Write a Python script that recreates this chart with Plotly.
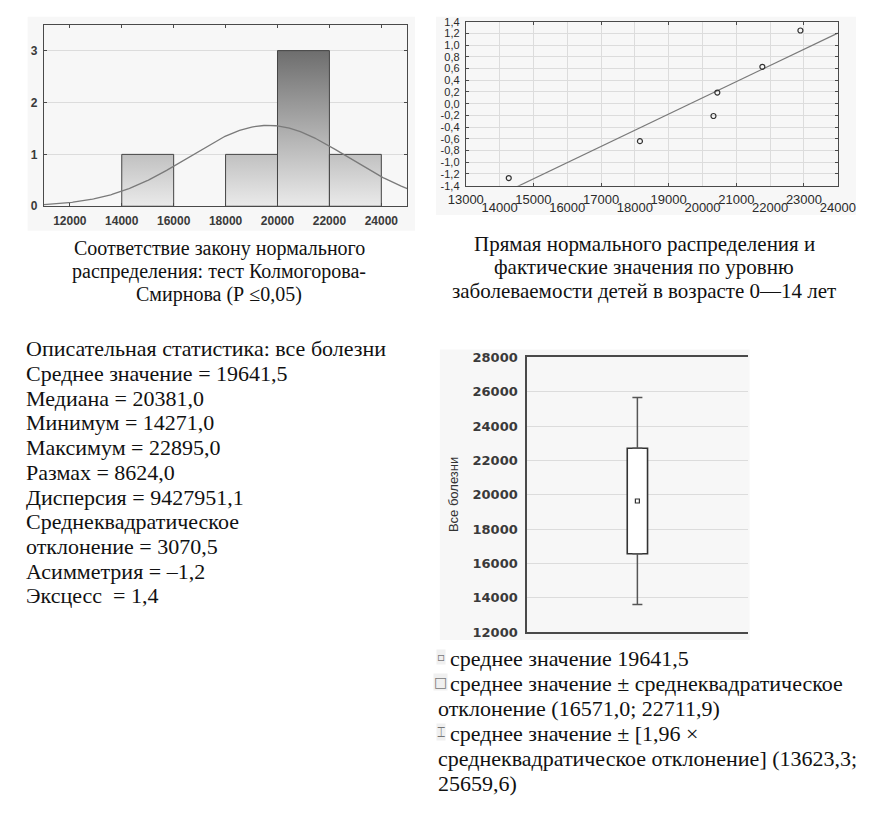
import numpy as np
import plotly.graph_objects as go

W, H = 874, 814

# ---------------- data ----------------
# histogram (Kolmogorov-Smirnov panel)
bin_edges = [12000, 14000, 16000, 18000, 20000, 22000, 24000]
bin_counts = [0, 1, 0, 1, 3, 1]
hist_xticks = [12000, 14000, 16000, 18000, 20000, 22000, 24000]
hist_yticks = [0, 1, 2, 3]

# descriptive statistics (used for the fitted normal curve)
stat_mean = 19641.5
stat_sd = 3070.5

# normal probability plot
obs_values = [14271, 18150, 20324, 20438, 21770, 22895]
exp_normal = [-1.27, -0.64, -0.21, 0.19, 0.63, 1.25]
line_center = 19641.5   # x where the normal line crosses 0
line_scale = 3615.0     # x units per 1 unit of expected normal value
pp_ticks_row1 = [13000, 15000, 17000, 19000, 21000, 23000]
pp_ticks_row2 = [14000, 16000, 18000, 20000, 22000, 24000]
pp_yticks = [-1.4, -1.2, -1.0, -0.8, -0.6, -0.4, -0.2, 0.0, 0.2, 0.4, 0.6, 0.8, 1.0, 1.2, 1.4]

# box (mean / mean ± sd / mean ± 1.96 sd)
box_category = ["Все болезни"]
box_mean = [19641.5]
box_low = [16571.0]
box_high = [22711.9]
whisk_low = [13623.3]
whisk_high = [25659.6]
box_yticks = [12000, 14000, 16000, 18000, 20000, 22000, 24000, 26000, 28000]

# texts
left_title = ["Соответствие закону нормального",
              "распределения: тест Колмогорова-",
              "Смирнова (Р ≤0,05)"]
right_title = ["Прямая нормального распределения и",
               "фактические значения по уровню",
               "заболеваемости детей в возрасте 0—14 лет"]
stats_lines = ["Описательная статистика: все болезни",
               "Среднее значение = 19641,5",
               "Медиана = 20381,0",
               "Минимум = 14271,0",
               "Максимум = 22895,0",
               "Размах = 8624,0",
               "Дисперсия = 9427951,1",
               "Среднеквадратическое",
               "отклонение = 3070,5",
               "Асимметрия = –1,2",
               "Эксцесс  = 1,4"]
legend_lines = ["среднее значение 19641,5",
                "среднее значение ± среднеквадратическое",
                "отклонение (16571,0; 22711,9)",
                "среднее значение ± [1,96 ×",
                "среднеквадратическое отклонение] (13623,3;",
                "25659,6)"]
legend_symbols = {0: "▫", 1: "□", 3: "⌶"}

# ---------------- helpers ----------------
def px(x):
    return x / W

def py(y):
    return 1 - y / H

SANS = "Liberation Sans, Arial, sans-serif"
SERIF = "Liberation Serif, Times New Roman, serif"
AX = "#4a4a4a"
GRID = "#dcdcdc"

def labels(vals):
    return [str(int(v)) for v in vals]

fig = go.Figure()

# ---------- histogram ----------
for i, c in enumerate(bin_counts):
    if c <= 0:
        continue
    l, r = bin_edges[i], bin_edges[i + 1]
    fig.add_trace(go.Scatter(
        x=[l, l, r, r, l], y=[0, c, c, 0, 0], mode="lines", fill="toself",
        fillgradient=dict(type="vertical", colorscale=[[0, "#ededed"], [1, "#6e6e6e"]],
                          start=0, stop=3),
        line=dict(color="#444444", width=1), xaxis="x", yaxis="y",
        showlegend=False, hoverinfo="skip"))

xc = np.linspace(11000, 25000, 300)
bw = bin_edges[1] - bin_edges[0]
n = sum(bin_counts)
yc = n * bw / (stat_sd * np.sqrt(2 * np.pi)) * np.exp(-0.5 * ((xc - stat_mean) / stat_sd) ** 2)
fig.add_trace(go.Scatter(x=xc, y=yc, mode="lines", line=dict(color="#7a7a7a", width=1.3),
                         xaxis="x", yaxis="y", showlegend=False, hoverinfo="skip"))

# ---------- normal probability plot ----------
xl = np.array([13000, 24000])
fig.add_trace(go.Scatter(x=xl, y=(xl - line_center) / line_scale, mode="lines",
                         line=dict(color="#7a7a7a", width=1.2),
                         xaxis="x2", yaxis="y2", showlegend=False, hoverinfo="skip"))
fig.add_trace(go.Scatter(x=obs_values, y=exp_normal, mode="markers",
                         marker=dict(symbol="circle-open", size=5, color="#333333",
                                     line=dict(width=1.2, color="#333333")),
                         xaxis="x2", yaxis="y2", showlegend=False))
fig.add_trace(go.Scatter(x=obs_values, y=exp_normal, mode="markers",
                         marker=dict(size=1, color="rgba(0,0,0,0)"),
                         xaxis="x4", yaxis="y2", showlegend=False, hoverinfo="skip"))

# ---------- box plot ----------
fig.add_trace(go.Scatter(
    x=box_category * 2, y=[box_high[0], box_low[0]], mode="markers",
    marker=dict(size=1, color="rgba(0,0,0,0)"),
    error_y=dict(type="data", symmetric=False,
                 array=[whisk_high[0] - box_high[0], 0],
                 arrayminus=[0, box_low[0] - whisk_low[0]],
                 color="#555555", thickness=1.5, width=5),
    xaxis="x3", yaxis="y3", showlegend=False, hoverinfo="skip"))
fig.add_trace(go.Bar(
    x=box_category, y=[box_high[0] - box_low[0]], base=box_low, width=0.092,
    marker=dict(color="white", line=dict(color="#333333", width=1.6)),
    xaxis="x3", yaxis="y3", showlegend=False, hoverinfo="skip"))
fig.add_trace(go.Scatter(
    x=box_category, y=box_mean, mode="markers",
    marker=dict(symbol="square-open", size=4, color="#333333", line=dict(width=1.2)),
    xaxis="x3", yaxis="y3", showlegend=False))

# ---------- axes ----------
def common(font):
    return dict(showline=True, linecolor=AX, linewidth=1, mirror="ticks", ticks="inside",
                ticklen=3, tickcolor=AX, zeroline=False, tickfont=font, fixedrange=True)

hist_font = dict(family=SANS, size=12, color="#3a3a3a", weight="bold")
pp_font = dict(family=SANS, size=13, color="#2a2a2a")
pp_yfont = dict(family=SANS, size=11, color="#2a2a2a")
box_font = dict(family="DejaVu Sans, sans-serif", size=13, color="#3a3a3a", weight="bold")

fig.update_layout(
    width=W, height=H, autosize=False, margin=dict(l=0, r=0, t=0, b=0, pad=0),
    paper_bgcolor="white", plot_bgcolor="white", showlegend=False, barmode="overlay",
    xaxis=dict(domain=[px(27), px(406)], range=[11000, 25000], tickvals=hist_xticks,
               ticktext=labels(hist_xticks), showgrid=False, anchor="y",
               ticklabelstandoff=3, **common(hist_font)),
    yaxis=dict(domain=[py(203), py(18)], range=[0, 3.5], tickvals=hist_yticks,
               ticktext=labels(hist_yticks), showgrid=True, gridcolor=GRID, anchor="x",
               ticklabelstandoff=3, **common(hist_font)),
    xaxis2=dict(domain=[px(467), px(855)], range=[13000, 24000], tickvals=pp_ticks_row1,
                ticktext=labels(pp_ticks_row1), showgrid=True, gridcolor=GRID,
                anchor="y2", ticklabelstandoff=2, **common(pp_font)),
    xaxis4=dict(domain=[px(467), px(855)], range=[13000, 24000], tickvals=pp_ticks_row2,
                ticktext=labels(pp_ticks_row2), overlaying="x2", anchor="y2",
                showgrid=True, gridcolor=GRID, showline=False, ticks="",
                ticklabelstandoff=12, tickfont=pp_font, zeroline=False, fixedrange=True),
    yaxis2=dict(domain=[py(182), py(15)], range=[-1.4, 1.4], tickvals=pp_yticks,
                ticktext=[("%.1f" % v).replace(".", ",") for v in pp_yticks],
                showgrid=True, gridcolor=GRID, anchor="x2", ticklabelstandoff=3,
                **common(pp_yfont)),
    xaxis3=dict(domain=[px(531), px(761)], range=[-0.5, 0.5], showticklabels=False,
                showgrid=False, anchor="y3", showline=True, linecolor=AX, linewidth=1.5,
                mirror=True, ticks="", zeroline=False, fixedrange=True, type="category"),
    yaxis3=dict(domain=[py(637), py(357)], range=[12000, 28000], tickvals=box_yticks,
                ticktext=labels(box_yticks), showgrid=True, gridcolor=GRID, anchor="x3",
                showline=True, linecolor=AX, linewidth=1.5, mirror=False, ticks="",
                zeroline=False, ticklabelstandoff=5, tickfont=box_font, fixedrange=True),
)

# ---------- panel backgrounds ----------
for (x0, y0, x1, y1) in [(10, 10, 414, 228), (436, 10, 874, 212), (440, 349, 763, 645)]:
    fig.add_shape(type="rect", xref="paper", yref="paper", x0=px(x0), x1=px(x1),
                  y0=py(y1), y1=py(y0), fillcolor="#f7f7f7", line=dict(width=0), layer="below")

# ---------- texts ----------
def text(x, y, s, anchor="left", size=22, family=SERIF, color="#111111", angle=0, bg=None):
    fig.add_annotation(x=px(x), y=py(y), xref="paper", yref="paper", text=s, showarrow=False,
                       xanchor=anchor, yanchor="middle", textangle=angle, align="left",
                       bgcolor=bg, borderpad=0,
                       font=dict(family=family, size=size, color=color))

for i, s in enumerate(left_title):
    text(210, 246 + i * 23.3, s, anchor="center", size=20)
for i, s in enumerate(right_title):
    text(653, 241 + i * 24, s, anchor="center", size=21)
for i, s in enumerate(stats_lines):
    text(7, 348 + i * 25.2, s)
for i, s in enumerate(legend_lines):
    xs = 450 if i in (0, 1, 3) else 437
    text(xs, 664 + i * 25.5, s)
for i, sym in legend_symbols.items():
    text(441, 662 + i * 25.5, sym, anchor="center", size=14 if i != 0 else 12,
         family="DejaVu Sans, sans-serif", color="#777777", bg="#f0f0f0")

text(455, 497, "Все болезни", anchor="center", size=13,
     family="Liberation Sans Narrow, Arial Narrow, sans-serif", color="#333333", angle=-90)

fig.write_html("out.html")
